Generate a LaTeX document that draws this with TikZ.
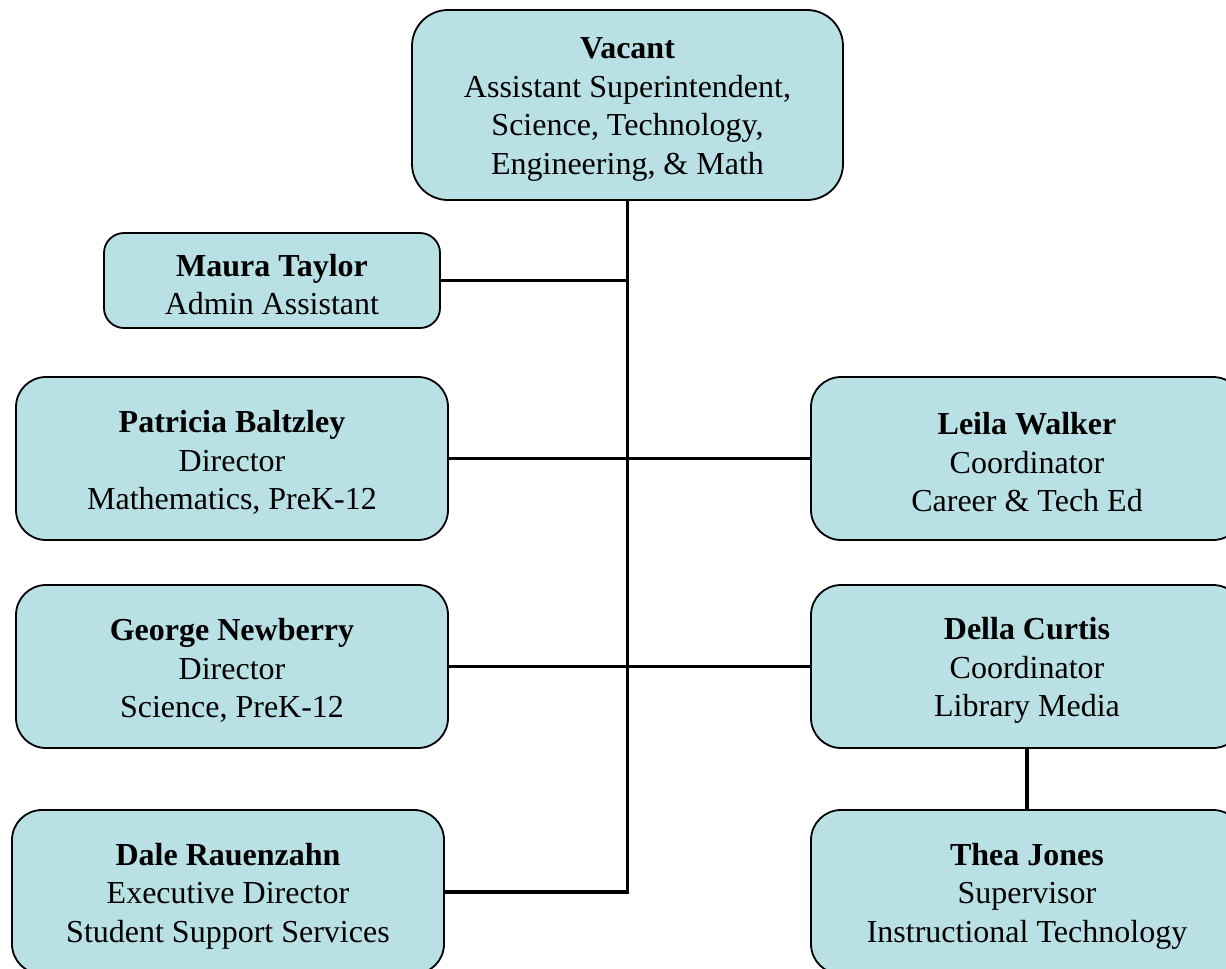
\documentclass[tikz,border=0pt]{standalone}
\usepackage{fontspec}
\setmainfont{Liberation Serif}
\definecolor{boxfill}{RGB}{185,224,228}
\newcommand{\toppad}{\rule{0pt}{30pt}}
\begin{document}
\begin{tikzpicture}[x=1pt,y=-1pt,
  box/.style={draw=black, line width=1.8pt, fill=boxfill, rounded corners=30pt,
    inner sep=0pt, align=center, font=\fontsize{32}{38.5}\selectfont},
  link/.style={draw=black, line width=3.2pt}]
\useasboundingbox (0,0) rectangle (1226,969);
\clip (0,0) rectangle (1226,969);
\node[box, rounded corners=36pt, minimum width=431pt, minimum height=190pt] (top) at (627.5,105)
  {\toppad\textbf{Vacant}\\Assistant Superintendent,\\Science, Technology,\\Engineering, \& Math};
\node[box, rounded corners=20pt, minimum width=336pt, minimum height=95pt] (maura) at (272,280.5)
  {\toppad\textbf{Maura Taylor}\\Admin Assistant};
\node[box, minimum width=432pt, minimum height=163pt] (pat) at (232,458.5)
  {\toppad\textbf{Patricia Baltzley}\\Director\\Mathematics, PreK-12};
\node[box, minimum width=432pt, minimum height=163pt] (leila) at (1027,458.5)
  {\toppad\textbf{Leila Walker}\\Coordinator\\Career \& Tech Ed};
\node[box, minimum width=432pt, minimum height=163pt] (george) at (232,666.5)
  {\toppad\textbf{George Newberry}\\Director\\Science, PreK-12};
\node[box, minimum width=432pt, minimum height=163pt] (della) at (1027,666.5)
  {\toppad\textbf{Della Curtis}\\Coordinator\\Library Media};
\node[box, minimum width=432pt, minimum height=164pt] (dale) at (228,892)
  {\toppad\textbf{Dale Rauenzahn}\\Executive Director\\Student Support Services};
\node[box, minimum width=432pt, minimum height=164pt] (thea) at (1027,892)
  {\toppad\textbf{Thea Jones}\\Supervisor\\Instructional Technology};
\coordinate (trunkend) at (top.south |- dale.east);
\draw[link] (top.south) -- (trunkend) -- (dale.east);
\draw[link] (maura.east) -- (maura.east -| top.south);
\draw[link] (pat.east) -- (leila.west);
\draw[link] (george.east) -- (della.west);
\draw[link] (della.south) -- (thea.north);
\end{tikzpicture}
\end{document}
